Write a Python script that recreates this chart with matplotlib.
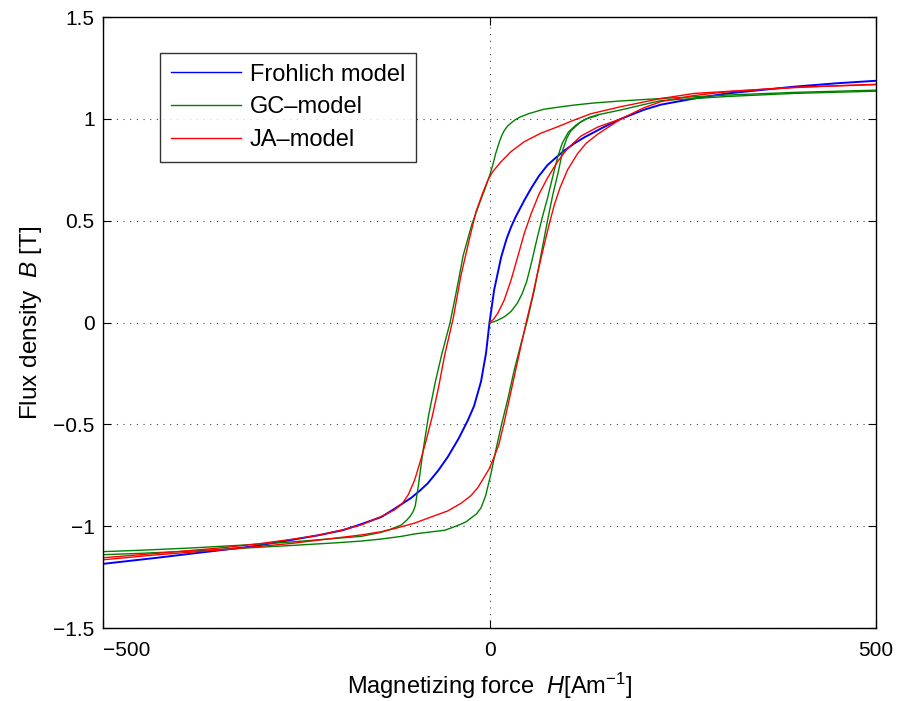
import matplotlib
matplotlib.use("Agg")
import matplotlib.pyplot as plt

# Frohlich model (single valued B-H curve)
froh_h = [-500, -430, -386, -308, -257, -222, -190, -166, -140, -123, -101, -90, -80, -66, -54, -40,
          -28, -20, -11, -4.5, 0, 6, 15, 22, 28, 34, 45, 54, 64, 75, 86, 97, 110, 123, 148, 170, 200,
          222, 265, 308, 394, 450, 500]
froh_b = [-1.185, -1.155, -1.135, -1.10, -1.068, -1.045, -1.02, -0.99, -0.955, -0.915, -0.86, -0.825,
          -0.79, -0.725, -0.66, -0.57, -0.48, -0.41, -0.29, -0.15, 0.0, 0.16, 0.32, 0.41, 0.47, 0.52,
          0.60, 0.66, 0.72, 0.773, 0.81, 0.845, 0.88, 0.91, 0.96, 1.0, 1.045, 1.07, 1.10, 1.125,
          1.158, 1.175, 1.187]

# GC model: initial curve, descending and ascending branch
gc_init_h = [0, 5, 10, 15, 20, 28, 36, 42, 48, 54, 62, 68.5, 75, 82, 88, 94, 102, 112, 125, 140]
gc_init_b = [0.0, 0.003, 0.01, 0.02, 0.03, 0.055, 0.095, 0.14, 0.2, 0.29, 0.42, 0.52, 0.61, 0.72,
             0.81, 0.88, 0.935, 0.97, 1.0, 1.017]

gc_desc_h = [500, 394, 308, 222, 170, 135, 110, 90, 70, 52, 40, 33, 28, 23, 19, 16, 13, 8, 4, 0,
             -6, -13, -23, -34, -42, -51, -62, -70, -79, -86, -92, -96, -99, -103, -107, -114, -128,
             -140, -166, -200, -258, -320, -386, -450, -500]
gc_desc_b = [1.141, 1.13, 1.117, 1.10, 1.088, 1.078, 1.068, 1.058, 1.047, 1.027, 1.01, 0.995, 0.98,
             0.963, 0.942, 0.92, 0.89, 0.83, 0.77, 0.72, 0.655, 0.585, 0.48, 0.33, 0.17, 0.0, -0.16,
             -0.29, -0.46, -0.63, -0.80, -0.90, -0.93, -0.953, -0.97, -0.994, -1.015, -1.03, -1.05,
             -1.06, -1.078, -1.093, -1.107, -1.118, -1.125]

gc_asc_h = [-500, -450, -386, -320, -258, -200, -166, -140, -114, -97, -80, -58, -47, -37, -30, -24,
            -17, -11, -5, 2, 8, 15, 24, 32, 41, 49, 58, 66, 75, 82, 89, 95, 100, 105, 112, 118, 130,
            140, 170, 222, 308, 394, 500]
gc_asc_b = [-1.14, -1.133, -1.122, -1.108, -1.095, -1.082, -1.073, -1.063, -1.05, -1.038, -1.03,
            -1.02, -1.005, -0.99, -0.978, -0.96, -0.94, -0.91, -0.85, -0.74, -0.63, -0.51, -0.37,
            -0.233, -0.1, 0.012, 0.16, 0.32, 0.50, 0.63, 0.74, 0.85, 0.905, 0.94, 0.965, 0.986,
            1.008, 1.02, 1.044, 1.09, 1.11, 1.125, 1.136]

# JA model: initial curve, descending and ascending branch
ja_init_h = [0, 5, 10.6, 19, 28, 36.5, 45, 54, 64, 75, 88, 100, 118, 140, 170]
ja_init_b = [0.0, 0.015, 0.045, 0.11, 0.21, 0.323, 0.438, 0.536, 0.63, 0.71, 0.79, 0.85, 0.915, 0.96,
             1.0]

ja_desc_h = [500, 430, 351, 265, 222, 170, 131, 110, 88, 66, 45, 28, 15, 4, -2, -9, -17.5, -26, -37,
             -47, -58, -66, -74, -82, -89, -97, -105, -113, -123, -140, -166, -192, -222, -257, -300,
             -343, -429, -500]
ja_desc_b = [1.17, 1.16, 1.145, 1.125, 1.10, 1.06, 1.025, 0.995, 0.961, 0.929, 0.888, 0.84, 0.79,
             0.74, 0.70, 0.634, 0.544, 0.41, 0.23, 0.02, -0.16, -0.32, -0.46, -0.58, -0.675, -0.775,
             -0.845, -0.89, -0.92, -0.953, -0.994, -1.02, -1.045, -1.065, -1.087, -1.105, -1.133,
             -1.155]

ja_asc_h = [-500, -429, -343, -257, -192, -166, -140, -123, -97, -80, -54, -37, -24, -15, -7, 0, 6,
            12, 19, 26, 34, 41, 48, 55, 62, 70, 77, 84, 91, 101, 114, 125, 140, 170, 200, 222, 265,
            308, 394, 500]
ja_asc_b = [-1.165, -1.14, -1.115, -1.085, -1.055, -1.043, -1.027, -1.012, -0.985, -0.961, -0.925,
            -0.888, -0.85, -0.81, -0.76, -0.715, -0.66, -0.6, -0.49, -0.37, -0.23, -0.11, 0.01, 0.12,
            0.24, 0.37, 0.48, 0.58, 0.66, 0.75, 0.83, 0.88, 0.925, 1.0, 1.055, 1.085, 1.115, 1.133,
            1.155, 1.168]

x_ticks = [-500, 0, 500]
x_tick_labels = ["\u2212500", "0", "500"]
y_ticks = [-1.5, -1, -0.5, 0, 0.5, 1, 1.5]
y_tick_labels = ["\u22121.5", "\u22121", "\u22120.5", "0", "0.5", "1", "1.5"]

plt.rcParams["font.family"] = ["Liberation Sans", "DejaVu Sans"]
plt.rcParams["mathtext.fontset"] = "custom"
plt.rcParams["mathtext.rm"] = "Liberation Sans"
plt.rcParams["mathtext.it"] = "Liberation Sans:italic"

fig = plt.figure(figsize=(9, 7.01), dpi=100)
ax = fig.add_axes([0.1144, 0.1041, 0.859, 0.8716])

blue = (0, 0, 1)
green = (0, 0.5, 0)
red = (1, 0, 0)

ax.plot(froh_h, froh_b, color=blue, lw=1.4, label="Frohlich model")
ax.plot(gc_init_h, gc_init_b, color=green, lw=1.0, label="GC\u2013model")
ax.plot(gc_desc_h, gc_desc_b, color=green, lw=1.0)
ax.plot(gc_asc_h, gc_asc_b, color=green, lw=1.0)
ax.plot(ja_init_h, ja_init_b, color=red, lw=1.0, label="JA\u2013model")
ax.plot(ja_desc_h, ja_desc_b, color=red, lw=1.0)
ax.plot(ja_asc_h, ja_asc_b, color=red, lw=1.0)

ax.set_xlim(-500, 500)
ax.set_ylim(-1.5, 1.5)
ax.set_xticks(x_ticks)
ax.set_xticklabels(x_tick_labels)
ax.set_yticks(y_ticks)
ax.set_yticklabels(y_tick_labels)
ax.tick_params(direction="in", length=6, width=0.8, top=True, right=True, labelsize=15)
ax.tick_params(axis="x", pad=9)
ax.tick_params(axis="y", pad=6)
# the leftmost x label sits inside the axis edge
ax.get_xticklabels()[0].set_horizontalalignment("left")
ax.grid(True, linestyle=(0, (1, 5)), color="0.25", linewidth=0.8)
for s in ax.spines.values():
    s.set_linewidth(1.0)

ax.set_xlabel("Magnetizing force  $H$[Am$^{-1}$]", fontsize=17, labelpad=8)
ax.set_ylabel("Flux density  $B$ [T]", fontsize=17.5, labelpad=7)

leg = ax.legend(loc="upper left", bbox_to_anchor=(0.0737, 0.941), borderaxespad=0,
                fontsize=17, frameon=True, fancybox=False, edgecolor="black",
                handlelength=3.0, handletextpad=0.35, labelspacing=0.45, borderpad=0.45)
leg.get_frame().set_linewidth(1.0)
for line in leg.get_lines():
    line.set_linewidth(1.0)

fig.savefig("out.png", dpi=100)
